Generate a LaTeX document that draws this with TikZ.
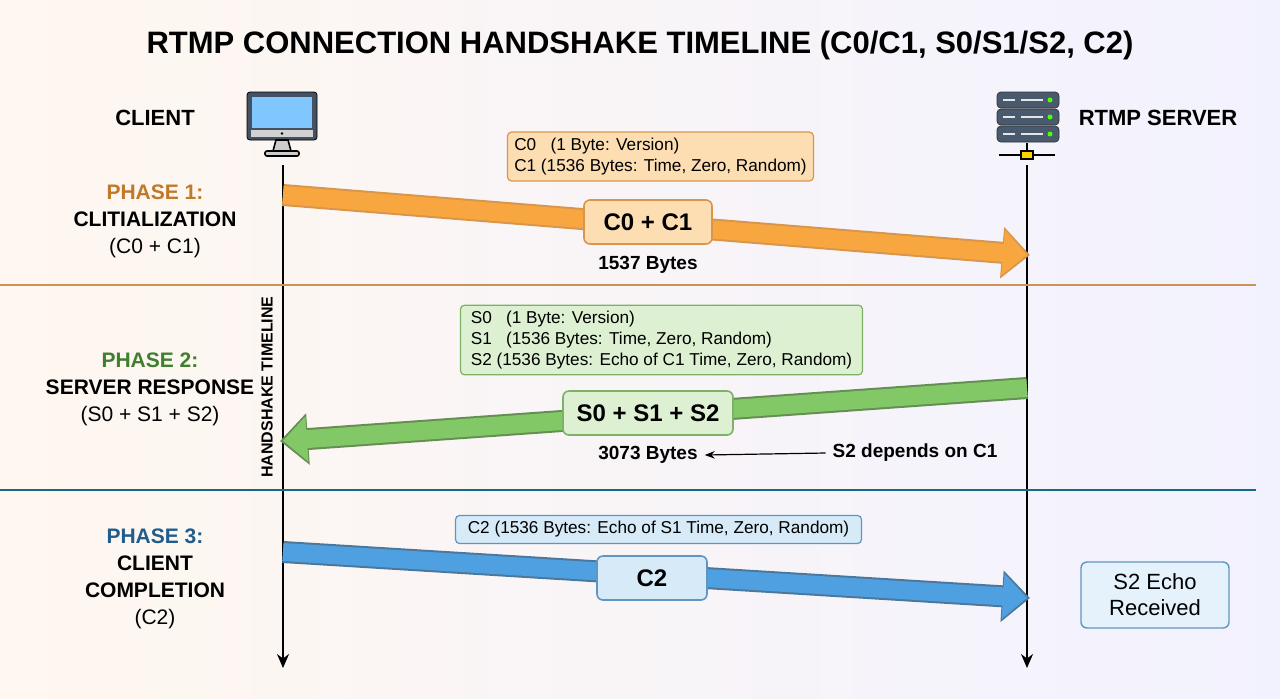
\documentclass[tikz,border=0pt]{standalone}
\usepackage{fontspec}
\setmainfont{Liberation Sans}
\usetikzlibrary{arrows.meta,positioning}
\definecolor{ph1}{HTML}{C0782A}
\definecolor{ph2}{HTML}{3F7F2E}
\definecolor{ph3}{HTML}{205C8C}
\definecolor{orfill}{HTML}{FDDDB2}
\definecolor{ordraw}{HTML}{D8964C}
\definecolor{orflow}{HTML}{F8A640}
\definecolor{grfill}{HTML}{DDF0D2}
\definecolor{grdraw}{HTML}{7DB266}
\definecolor{grflow}{HTML}{82C866}
\definecolor{blfill}{HTML}{D6EAF8}
\definecolor{bldraw}{HTML}{5F95C2}
\definecolor{blflow}{HTML}{4FA0E0}
\definecolor{slate}{HTML}{4A5A6E}
\tikzset{
  head/.style={font=\fontsize{11}{13}\selectfont\bfseries},
  phase/.style={font=\fontsize{10.5}{13.5}\selectfont\bfseries, align=center},
  info/.style={rounded corners=2pt, line width=0.6pt, align=left, inner sep=3pt,
    font=\fontsize{8.6}{10.4}\selectfont},
  pkt/.style={rounded corners=3pt, line width=0.8pt, inner sep=0pt,
    font=\fontsize{12}{14}\selectfont\bfseries},
  flow/.style={line width=9pt, -{Triangle[length=12pt,width=22pt]}},
  rim/.style={line width=11pt, -{Triangle[length=14pt,width=25pt]}},
  life/.style={line width=1pt, -{Stealth[length=7pt,width=6pt]}},
  sep/.style={line width=0.8pt}
}
\begin{document}
\begin{tikzpicture}[x=0.5pt,y=-0.5pt]
  % background
  \shade[left color=orange!6!white, right color=blue!5!white] (0,0) rectangle (1280,698);
  \useasboundingbox (0,0) rectangle (1280,698);

  \node[font=\fontsize{15.5}{18}\selectfont\bfseries] (title) at (640,45)
    {RTMP CONNECTION HANDSHAKE TIMELINE (C0/C1, S0/S1/S2, C2)};

  % actors
  \node[head] (client) at (155,118) {CLIENT};
  \node[head] (server) at (1158,118) {RTMP SERVER};
  % monitor
  \draw[fill=slate!90!black, rounded corners=1.5pt] (247,92) rectangle (317,140);
  \fill[blue!45!cyan!50!white] (252,97) rectangle (312,128);
  \fill[gray!35] (251,130) rectangle (313,137);
  \fill[black] (282,133.5) circle (1.3);
  \draw[fill=gray!40, line width=0.8pt] (276,140) -- (273,151) -- (291,151) -- (288,140) -- cycle;
  \draw[fill=gray!40, line width=0.8pt, rounded corners=1pt] (265,151) rectangle (299,156);
  % server
  \foreach \i in {0,1,2}{
    \draw[fill=slate, draw=black!80, rounded corners=2pt] (997,92+\i*17) rectangle (1059,108+\i*17);
    \draw[white!80!gray, line width=0.8pt] (1003,100+\i*17) -- (1015,100+\i*17) (1021,100+\i*17) -- (1043,100+\i*17);
    \fill[green!70!yellow] (1050,100+\i*17) circle (2.5);
  }
  \draw[line width=0.9pt] (1027,143) -- (1027,152) (999,155) -- (1055,155);
  \draw[fill=yellow!70!orange, line width=0.6pt] (1021,151) rectangle (1033,159);

  % lifelines
  \coordinate (ctop) at (283,165);
  \coordinate (cbot) at (283,668);
  \coordinate (stop) at (1027,165);
  \coordinate (sbot) at (1027,668);
  \draw[life] (ctop) -- (cbot);
  \draw[life] (stop) -- (sbot);
  \node[rotate=90, font=\fontsize{8}{10}\selectfont\bfseries] (axis) at (267,387) {HANDSHAKE TIMELINE};

  % phase separators
  \draw[sep, ph1!80] (0,285) -- (1256,285);
  \draw[sep, ph3!60!teal] (0,490) -- (1256,490);

  % phases
  \node[phase] (p1) at (155,221) {\textcolor{ph1}{PHASE 1:}\\CLITIALIZATION\\\fontseries{m}\selectfont(C0 + C1)};
  \node[phase] (p2) at (150,389) {\textcolor{ph2}{PHASE 2:}\\SERVER RESPONSE\\\fontseries{m}\selectfont(S0 + S1 + S2)};
  \node[phase] (p3) at (155,579) {\textcolor{ph3}{PHASE 3:}\\CLIENT\\COMPLETION\\\fontseries{m}\selectfont(C2)};

  % phase 1
  \coordinate (a1s) at (283,195);
  \coordinate (a1e) at (1030,255);
  \draw[rim, draw=ordraw] (a1s) -- (a1e);
  \draw[flow, draw=orflow, shorten >=1.5pt] (a1s) -- (a1e);
  \node[info, fill=orfill, draw=ordraw, minimum width=153pt] (i1) at (660.5,156.5)
    {C0\ \ \ (1 Byte: Version)\\C1 (1536 Bytes: Time, Zero, Random)};
  \node[pkt, fill=orfill, draw=ordraw, minimum width=64pt, minimum height=22pt] (c01) at (648,222) {C0 + C1};
  \node[font=\fontsize{9.5}{11}\selectfont\bfseries] (b1) at (648,265) {1537 Bytes};

  % phase 2
  \coordinate (a2s) at (1027,388);
  \coordinate (a2e) at (280,441);
  \draw[rim, draw=grdraw!80!black] (a2s) -- (a2e);
  \draw[flow, draw=grflow, shorten >=1.5pt] (a2s) -- (a2e);
  \node[info, fill=grfill, draw=grdraw, minimum width=201pt] (i2) at (661.5,340)
    {S0\ \ \ (1 Byte: Version)\\S1\ \ \ (1536 Bytes: Time, Zero, Random)\\S2 (1536 Bytes: Echo of C1 Time, Zero, Random)};
  \node[pkt, fill=grfill, draw=grdraw, minimum width=85pt, minimum height=22pt] (s012) at (648,413) {S0 + S1 + S2};
  \node[font=\fontsize{9.5}{11}\selectfont\bfseries] (b2) at (648,455) {3073 Bytes};
  \node[font=\fontsize{9.5}{11}\selectfont\bfseries] (dep) at (915,453) {S2 depends on C1};
  \draw[-{Stealth[length=5pt]}, line width=0.6pt] (dep.west) -- (b2.east);

  % phase 3
  \coordinate (a3s) at (283,552);
  \coordinate (a3e) at (1030,598);
  \draw[rim, draw=bldraw!80!black] (a3s) -- (a3e);
  \draw[flow, draw=blflow, shorten >=1.5pt] (a3s) -- (a3e);
  \node[info, fill=blfill, draw=bldraw, minimum width=203pt] (i3) at (658.5,529.5)
    {C2 (1536 Bytes: Echo of S1 Time, Zero, Random)};
  \node[pkt, fill=blfill, draw=bldraw, minimum width=55pt, minimum height=22pt] (c2) at (652,578) {C2};
  \node[rounded corners=3pt, fill=blfill!60!white, draw=bldraw, line width=0.7pt, align=center,
    minimum width=74pt, minimum height=33pt, font=\fontsize{11}{13}\selectfont] (echo) at (1155,595)
    {S2 Echo\\Received};
\end{tikzpicture}
\end{document}
